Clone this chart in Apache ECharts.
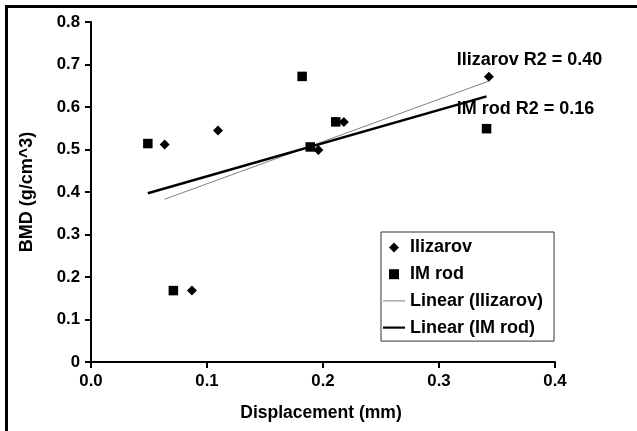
<!DOCTYPE html>
<html>
<head>
<meta charset="utf-8">
<script src="https://cdn.jsdelivr.net/npm/echarts@6/dist/echarts.min.js"></script>
<style>html,body{margin:0;padding:0;background:#fff;}#c{width:637px;height:431px;}</style>
</head>
<body>
<div id="c"></div>
<script>
// Data
var xIlizarov = [0.0635, 0.1095, 0.087, 0.196, 0.218, 0.343];
var yIlizarov = [0.512, 0.545, 0.168, 0.499, 0.565, 0.671];
var xIMrod = [0.049, 0.182, 0.189, 0.071, 0.211, 0.341];
var yIMrod = [0.514, 0.672, 0.506, 0.168, 0.565, 0.549];
var trendIlizarovX = [0.0635, 0.343];
var trendIlizarovY = [0.383, 0.661];
var trendIMrodX = [0.049, 0.341];
var trendIMrodY = [0.397, 0.625];
var seriesNames = ['Ilizarov', 'IM rod', 'Linear (Ilizarov)', 'Linear (IM rod)'];
var annotations = ['Ilizarov R2 = 0.40', 'IM rod R2 = 0.16'];
var xTitle = 'Displacement (mm)';
var yTitle = 'BMD (g/cm^3)';

function pairs(xs, ys) { return xs.map(function (x, i) { return [x, ys[i]]; }); }

var FONT = 'Liberation Sans';
var chart = echarts.init(document.getElementById('c'), null, { renderer: 'canvas' });
chart.setOption({
  animation: false,
  backgroundColor: '#fff',
  grid: { left: 91, right: 82, top: 22, bottom: 69, containLabel: false },
  xAxis: {
    type: 'value', min: 0, max: 0.4, interval: 0.1,
    name: xTitle, nameLocation: 'middle', nameGap: 42,
    nameTextStyle: { fontFamily: FONT, fontWeight: 'bold', fontSize: 17.5, color: '#000', padding: [0, 4, 0, 0] },
    axisLine: { show: true, lineStyle: { color: '#000', width: 2 } },
    axisTick: { show: true, inside: false, length: 6, lineStyle: { color: '#000', width: 2 } },
    axisLabel: { fontFamily: FONT, fontWeight: 'bold', fontSize: 16.8, color: '#000', margin: 11,
      formatter: function (v) { return v.toFixed(1); } },
    splitLine: { show: false }
  },
  yAxis: {
    type: 'value', min: 0, max: 0.8, interval: 0.1,
    name: yTitle, nameLocation: 'middle', nameGap: 55,
    nameTextStyle: { fontFamily: FONT, fontWeight: 'bold', fontSize: 18, color: '#000' },
    axisLine: { show: true, lineStyle: { color: '#000', width: 2 } },
    axisTick: { show: true, inside: false, length: 6, lineStyle: { color: '#000', width: 2 } },
    axisLabel: { fontFamily: FONT, fontWeight: 'bold', fontSize: 16.8, color: '#000', margin: 11,
      formatter: function (v) { return v === 0 ? '0' : v.toFixed(1); } },
    splitLine: { show: false }
  },
  legend: {
    orient: 'vertical', left: 381, top: 232,
    padding: [6, 11, 4, 2],
    backgroundColor: '#fff',
    borderColor: '#333', borderWidth: 1,
    itemWidth: 22, itemHeight: 10, itemGap: 7.7,
    symbolKeepAspect: true,
    textStyle: { fontFamily: FONT, fontWeight: 'bold', fontSize: 18, color: '#000', lineHeight: 19 },
    data: [
      { name: seriesNames[0], icon: 'path://M5,0L10,5L5,10L0,5Z' },
      { name: seriesNames[1], icon: 'path://M0,0L10,0L10,10L0,10Z' },
      { name: seriesNames[2], icon: 'path://M0,0L22,0L22,1L0,1Z' },
      { name: seriesNames[3], icon: 'path://M0,0L22,0L22,2.2L0,2.2Z' }
    ]
  },
  graphic: [
    { type: 'rect', shape: { x: 6.5, y: 6.5, width: 900, height: 900 }, style: { fill: 'none', stroke: '#000', lineWidth: 3 }, silent: true },
    { type: 'text', x: 456.7, y: 60, style: { text: annotations[0], fontFamily: FONT, fontWeight: 'bold', fontSize: 18, fill: '#000', verticalAlign: 'middle', align: 'left' }, z: 10 },
    { type: 'text', x: 456.7, y: 109.3, style: { text: annotations[1], fontFamily: FONT, fontWeight: 'bold', fontSize: 18, fill: '#000', verticalAlign: 'middle', align: 'left' }, z: 10 }
  ],
  series: [
    { name: seriesNames[2], type: 'line', data: pairs(trendIlizarovX, trendIlizarovY), symbol: 'none', showSymbol: false,
      lineStyle: { color: '#808080', width: 1 }, itemStyle: { color: '#808080' }, z: 2 },
    { name: seriesNames[3], type: 'line', data: pairs(trendIMrodX, trendIMrodY), symbol: 'none', showSymbol: false,
      lineStyle: { color: '#000', width: 2.5 }, itemStyle: { color: '#000' }, z: 2 },
    { name: seriesNames[0], type: 'scatter', data: pairs(xIlizarov, yIlizarov), symbol: 'diamond', symbolSize: 10,
      itemStyle: { color: '#000', opacity: 1 }, z: 3 },
    { name: seriesNames[1], type: 'scatter', data: pairs(xIMrod, yIMrod), symbol: 'rect', symbolSize: 9.5,
      itemStyle: { color: '#000', opacity: 1 }, z: 3 }
  ]
});
</script>
</body>
</html>
